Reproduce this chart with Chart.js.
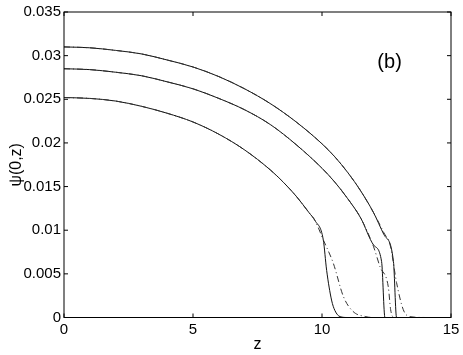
<!DOCTYPE html>
<html>
<head>
<meta charset="utf-8">
<script src="https://cdn.jsdelivr.net/npm/chart.js@4.4.0/dist/chart.umd.min.js"></script>
<style>
  html, body { margin: 0; padding: 0; background: #fff; }
</style>
</head>
<body>
<canvas id="chart" width="463" height="355"></canvas>
<script>
// values: psi(0,z) against z
const zA = [0, 1, 2, 3, 4, 5, 6, 7, 8, 9, 10, 10.5, 11, 11.5, 12, 12.4, 12.77, 12.89, 14];
const psiA = [0.0310, 0.0309, 0.0306, 0.0302, 0.0295, 0.0287, 0.0276, 0.0262, 0.0245, 0.0224, 0.0199, 0.0184, 0.0166, 0.0145, 0.0120, 0.0095, 0.0064, 0, 0];

const zB = [0, 1, 2, 3, 4, 5, 6, 7, 8, 9, 10, 10.5, 11, 11.5, 12, 12.31, 12.44, 14];
const psiB = [0.0285, 0.0284, 0.0281, 0.0277, 0.0270, 0.0262, 0.0251, 0.0238, 0.0221, 0.0198, 0.0171, 0.0155, 0.0136, 0.0114, 0.0083, 0.0064, 0, 0];

const zC = [0, 1, 2, 3, 4, 5, 6, 7, 8, 8.5, 9, 9.5, 9.73, 10.05, 10.18, 10.37, 10.5, 10.7, 11, 14];
const psiC = [0.0252, 0.0251, 0.0248, 0.0242, 0.0234, 0.0224, 0.0210, 0.0192, 0.0169, 0.0155, 0.0139, 0.0120, 0.0111, 0.0089, 0.0054, 0.0020, 0.0008, 0.0001, 0, 0];

// dash-dot curves (only differ near the fall-off)
const zAd = [0, 1, 2, 3, 4, 5, 6, 7, 8, 9, 10, 10.5, 11, 11.5, 12, 12.4, 12.65, 12.89, 13.15, 13.4, 14];
const psiAd = [0.0310, 0.0309, 0.0306, 0.0302, 0.0295, 0.0287, 0.0276, 0.0262, 0.0245, 0.0224, 0.0199, 0.0184, 0.0166, 0.0145, 0.0120, 0.0097, 0.0082, 0.0040, 0.0009, 0.0001, 0];

const zBd = [0, 1, 2, 3, 4, 5, 6, 7, 8, 9, 10, 10.5, 11, 11.5, 12, 12.25, 12.57, 12.66, 12.8, 14];
const psiBd = [0.0285, 0.0284, 0.0281, 0.0277, 0.0270, 0.0262, 0.0251, 0.0238, 0.0221, 0.0198, 0.0171, 0.0155, 0.0136, 0.0114, 0.0081, 0.0058, 0.0035, 0.0009, 0, 0];

const zCd = [0, 1, 2, 3, 4, 5, 6, 7, 8, 8.5, 9, 9.5, 9.73, 10.05, 10.44, 10.83, 11.2, 11.7, 12, 14];
const psiCd = [0.0252, 0.0251, 0.0248, 0.0242, 0.0234, 0.0224, 0.0210, 0.0192, 0.0169, 0.0155, 0.0139, 0.0120, 0.0111, 0.0089, 0.0062, 0.0024, 0.0007, 0.0001, 0, 0];

const xTicks = [0, 5, 10, 15];
const yTicks = [0, 0.005, 0.01, 0.015, 0.02, 0.025, 0.03, 0.035];

const FONT = '"Liberation Sans", Arial, Helvetica, sans-serif';

function pts(zs, ys) {
  return zs.map((z, i) => ({ x: z, y: ys[i] }));
}

function line(zs, ys, dashed) {
  return {
    data: pts(zs, ys),
    borderColor: dashed ? "#333" : "#111",
    borderWidth: 1,
    borderDash: dashed ? [6, 3, 1, 3] : [],
    pointRadius: 0,
    cubicInterpolationMode: "monotone",
    fill: false,
  };
}

// box round the axes, inward ticks, and the (b) tag
const frame = {
  id: "frame",
  afterDraw(chart) {
    const { ctx, chartArea: a, scales } = chart;
    const x = scales.x;
    const y = scales.y;
    ctx.save();
    ctx.strokeStyle = "#000";
    ctx.lineWidth = 1;
    ctx.strokeRect(a.left, a.top, a.right - a.left, a.bottom - a.top);
    ctx.beginPath();
    for (const t of xTicks) {
      const px = x.getPixelForValue(t);
      ctx.moveTo(px, a.bottom);
      ctx.lineTo(px, a.bottom - 4);
      ctx.moveTo(px, a.top);
      ctx.lineTo(px, a.top + 4);
    }
    for (const t of yTicks) {
      const py = y.getPixelForValue(t);
      ctx.moveTo(a.left, py);
      ctx.lineTo(a.left + 4, py);
      ctx.moveTo(a.right, py);
      ctx.lineTo(a.right - 4, py);
    }
    ctx.stroke();
    ctx.fillStyle = "#000";
    ctx.font = "20px " + FONT;
    ctx.textAlign = "center";
    ctx.textBaseline = "middle";
    ctx.fillText("(b)", x.getPixelForValue(12.62), y.getPixelForValue(0.0292));
    ctx.restore();
  },
};

Chart.defaults.font.family = FONT;
Chart.defaults.color = "#000";

new Chart(document.getElementById("chart"), {
  type: "line",
  data: {
    datasets: [
      line(zAd, psiAd, true),
      line(zBd, psiBd, true),
      line(zCd, psiCd, true),
      line(zA, psiA, false),
      line(zB, psiB, false),
      line(zC, psiC, false),
    ],
  },
  options: {
    responsive: false,
    animation: false,
    layout: { padding: { top: 11.5, right: 12, left: 0, bottom: 0 } },
    plugins: { legend: { display: false }, tooltip: { enabled: false } },
    scales: {
      x: {
        type: "linear",
        min: 0,
        max: 15,
        afterBuildTicks: (s) => { s.ticks = xTicks.map((v) => ({ value: v })); },
        ticks: { font: { size: 15 }, padding: 3, maxRotation: 0 },
        grid: { display: false, drawTicks: false },
        border: { display: false },
        title: { display: true, text: "z", font: { size: 16 }, padding: { top: 0, bottom: 1 } },
        afterFit: (s) => { s.height = 37.5; },
      },
      y: {
        type: "linear",
        min: 0,
        max: 0.035,
        afterBuildTicks: (s) => { s.ticks = yTicks.map((v) => ({ value: v })); },
        ticks: {
          font: { size: 15 },
          padding: 3,
          callback: (v) => String(Number(v.toFixed(3))),
        },
        grid: { display: false, drawTicks: false },
        border: { display: false },
        title: { display: true, text: "ψ(0,z)", font: { size: 16 }, padding: { top: 7, bottom: 0 } },
        afterFit: (s) => { s.width = 64; },
      },
    },
  },
  plugins: [frame],
});
</script>
</body>
</html>
